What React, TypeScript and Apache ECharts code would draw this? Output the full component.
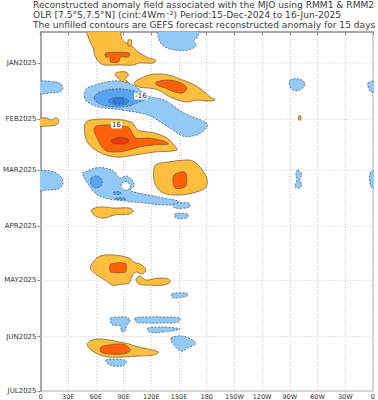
import React, { useEffect, useRef } from 'react';
import * as echarts from 'echarts';

// ---- axes ----
const lonTicks = [0, 30, 60, 90, 120, 150, 180, 210, 240, 270, 300, 330, 360];
// days since 15-Dec-2024
const monthDays = [17, 48, 76, 107, 137, 168, 198];
const monthLabels = ['JAN2025', 'FEB2025', 'MAR2025', 'APR2025', 'MAY2025', 'JUN2025', 'JUL2025'];
const titleLines = [
  'Reconstructed anomaly field associated with the MJO using RMM1 & RMM2',
  'OLR [7.5°S,7.5°N] (cint:4Wm⁻²) Period:15-Dec-2024 to 16-Jun-2025',
  'The unfilled contours are GEFS forecast reconstructed anomaly for 15 days',
];

// ---- contour regions: [longitude (°E, 0-360), day since 15-Dec-2024] ----
const posA = [[50.7,-3],[84.5,-3],[88.7,4.4],[99.2,7.7],[105.6,11],[117.2,14.3],[124.6,15.4],[122.5,17.1],[106.6,17.1],[101.3,18.2],[85.5,18.2],[69.7,18.2],[64.4,17.1],[59.1,13.2],[57,8.8],[52.8,4.4]];
const posA2 = [[70.7,11.6],[96.1,11.6],[95,13.8],[86.6,13.8],[84.5,16.5],[76,16.5],[75,13.8],[70.7,13.8]];
const posAsmall = [[95,4.4],[98.2,4.4],[98.2,7.2],[95,7.7]];
const negP = [[127.7,-3],[150,-3],[172.1,-3],[170,2.8],[165.8,5],[168.9,7.2],[160.5,9.9],[145.7,9.9],[133,7.7],[127.7,3.3]];
const posQ = [[81.3,22.6],[92.9,22.1],[95,24.3],[90.8,25.9],[95,27.6],[92.9,29.2],[84.5,29.2],[86.6,26.5],[82.3,24.8]];
const posB = [[101.3,28.1],[111.9,24.8],[122.5,23.2],[138.3,23.7],[154.1,26.5],[164.7,28.7],[175.2,32],[183.7,35.9],[189,37.5],[180.5,38.1],[170,37.5],[159.4,38.6],[148.9,37.5],[138.3,35.3],[127.7,32],[117.2,30.9],[106.6,30.3]];
const posB2 = [[125.6,27.6],[138.3,26.5],[152,28.1],[158.4,30.9],[154.1,33.6],[145.7,33.1],[135.1,30.9],[125.6,29.2]];
const negR = [[-3,27.6],[16.9,27.6],[22.2,28.7],[24.3,30.9],[21.1,33.1],[11.6,33.6],[-3,33.6]];
const negRwrap = [[354.7,28.1],[363,27.6],[363,33.1],[356.8,32.5]];
const negT = [[270.3,26.5],[280.8,26],[286.1,28.1],[284,30.9],[276.6,32.5],[270.3,30.3]];
const negC = [[47.5,35.9],[49.6,31.4],[59.1,29.2],[70.7,27.6],[85.5,27],[102.4,29.8],[116.1,35.3],[134.1,37.5],[155.2,44.7],[180.5,50.7],[175.2,55.2],[164.7,57.4],[154.1,57.4],[143.6,54.1],[133,50.7],[116.1,45.8],[87.6,43],[63.3,41.4],[49.6,38.1]];
const negC2 = [[58.1,36.4],[64.4,33.1],[80.2,31.4],[96.1,32],[106.6,33.6],[116.1,35.9],[109.8,38.1],[101.3,39.7],[96.1,40.8],[80.2,41.4],[64.4,39.7]];
const negC3 = [[73.9,37.5],[84.5,35.9],[95,37.5],[92.9,39.7],[84.5,40.3],[75,39.2]];
const negC4 = [[79.2,37],[89.7,37],[89.7,39.2],[79.2,39.2]];
const posD = [[47.5,52.4],[50.7,49.1],[70.7,48],[98.2,49.6],[105.6,54.1],[123.5,55.7],[137.2,58.5],[144.6,62.3],[147.8,65.1],[123.5,66.2],[102.4,67.8],[81.3,69],[63.3,66.2],[50.7,60.7]];
const posD2 = [[58.1,53],[67.6,51.3],[85.5,51.9],[95,52.4],[99.2,55.7],[103.5,58.5],[117.2,58.5],[133,60.1],[138.3,61.8],[122.5,62.3],[106.6,63.4],[96.1,65.1],[80.2,66.2],[69.7,65.1],[62.3,59.6]];
const posD3 = [[77.1,59.6],[85.5,57.9],[95,59],[94,61.2],[85.5,61.8],[78.1,61.2]];
const posS = [[-3,48],[6.3,47.4],[11.6,48.5],[16.9,47.4],[20,49.1],[16.9,51.3],[6.3,51.9],[-3,51.9]];
const posU = [[279.7,46.3],[281.8,46.3],[281.8,48.5],[279.7,48.5]];
const negV = [[-3,77.2],[11.6,76.7],[16.9,77.8],[22.2,79.9],[24.3,83.8],[19,86.6],[6.3,87.2],[-3,87.2]];
const negW = [[356.8,77.8],[363,76.7],[363,86],[357.9,85.5]];
const negX = [[278.7,76.1],[282.9,78.3],[280.8,81.6],[282.9,83.8],[280.8,86],[275.5,85.5],[277.6,81.6],[276.6,78.3]];
const negE = [[48.6,77.2],[59.1,75],[69.7,75],[80.2,77.2],[85.5,80.5],[92.9,79.4],[99.2,81.6],[101.3,84.9],[97.1,87.2],[101.3,88.3],[117.2,89.9],[133,91.6],[148.9,93.2],[149.9,94.9],[133,95.4],[111.9,94.3],[90.8,93.2],[69.7,91.6],[59.1,88.8],[48.6,81.6],[45.4,77.8]];
const holeE = [[87.6,83.3],[94,82.7],[97.1,85.5],[93,87.2],[88.7,86.6]];
const negE2 = [[54.9,80.5],[61.2,79.4],[66.5,81.6],[65.5,84.9],[59.1,86],[54.9,84.4]];
const negE2b = [[79.2,88.3],[86.6,88.3],[86.6,89.4],[79.2,89.4]];
const negE2c = [[81.3,91.6],[91.8,91.6],[91.8,92.4],[81.3,92.4]];
const negY = [[143.6,94.9],[160.5,94.3],[161.5,96.5],[145.7,97.1]];
const negZ = [[145.7,100.4],[159.4,100.4],[158.4,102.6],[146.7,102.6]];
const posF = [[124.6,73.4],[138.3,71.7],[159.4,70.6],[166.8,71.7],[175.2,76.1],[180.5,81.6],[178.4,86],[164.7,88.8],[148.9,89.9],[133,88.8],[124.6,84.4],[122.5,78.9]];
const posF2 = [[144.6,78.9],[156.2,77.2],[158.4,81.6],[156.2,85.5],[145.7,86],[143.6,82.7]];
const posG = [[54.9,98.2],[64.4,96.5],[80.2,97.1],[96.1,97.1],[100.3,98.7],[96.1,100.4],[80.2,100.9],[69.7,102.6],[61.2,102],[57,100.4]];
const posH = [[64.4,123.6],[80.2,123],[96.1,124.7],[101.3,126.9],[109.8,128.5],[114,131.3],[109.8,133.5],[103.5,132.4],[99.2,134.6],[96.1,138.5],[88.7,139],[78.1,139.6],[69.7,136.8],[61.2,134],[53.8,130.2],[57,126.9]];
const posH2 = [[76,128],[91.8,127.5],[92.9,130.2],[91.8,132.4],[76,132.4],[75,130.2]];
const posI = [[103.5,136.2],[107.7,134.6],[114,136.8],[127.7,135.7],[138.3,136.2],[140.4,137.9],[133,139.6],[117.2,139.6],[106.6,139]];
const negMay = [[142.5,144.5],[158.4,144],[159.4,145.5],[143.6,146.7]];
const negJ = [[76,157.8],[85.5,157.2],[92.9,157.2],[97.1,158.9],[95,161.1],[92.9,162.2],[91.8,164.9],[87.6,164.9],[86.6,162.2],[78.1,161.6],[76,159.9]];
const negK = [[102.4,157.8],[111.9,157.2],[133,157.2],[151,157.8],[148.9,160],[133,160.5],[111.9,160.5],[103.5,160]];
const negL = [[116.1,163.3],[133,162.7],[151,163.8],[133,165.5],[118.2,165.5]];
const negM = [[141.5,168.8],[154.1,167.7],[167.9,171.5],[159.4,174.3],[152,176],[143.6,172.1]];
const posN = [[53.8,170.4],[64.4,169.3],[80.2,170.4],[96.1,172.1],[106.6,173.8],[117.2,174.9],[127.7,176.5],[122.5,178.2],[106.6,178.7],[90.8,179.3],[75,179.3],[64.4,178.2],[54.9,175.4],[50.7,172.6]];
const posN2 = [[65.5,173.8],[75,172.6],[88.7,172.1],[95,173.8],[97.1,176],[88.7,177.6],[75,177.6],[65.5,176.5]];
const negO = [[70.7,181],[82.3,180.4],[92.9,181.5],[88.7,184.2],[75,183.6]];

// [polygon, level]  level: +1 >4, +2 >12, +3 >20 ; -1 <-4, -2 <-12, -3, -4 ; 0 = hole
const regions: [number[][], number][] = [
  [posA, 1], [posA2, 2], [posAsmall, 1], [negP, -1], [posQ, 1], [posB, 1], [posB2, 2],
  [negR, -1], [negRwrap, -1], [negT, -1],
  [negC, -1], [negC2, -2], [negC3, -3], [negC4, -4],
  [posD, 1], [posD2, 2], [posD3, 3], [posS, 1], [posU, 1],
  [negV, -1], [negW, -1], [negX, -1], [negE, -1], [holeE, 0], [negE2, -2], [negE2b, -2], [negE2c, -2],
  [negY, -1], [negZ, -1], [posF, 1], [posF2, 2], [posG, 1],
  [posH, 1], [posH2, 2], [posI, 1], [negMay, -1],
  [negJ, -1], [negK, -1], [negL, -1], [negM, -1], [posN, 1], [posN2, 2], [negO, -1],
];

const contourLabels: [number, number, string][] = [
  [108.7, 35.3, '-16'],
  [82.3, 51.3, '16'],
];

const levelColor: Record<string, string> = {
  '3': '#E8380C', '2': '#FF6008', '1': '#FFBE3E', '0': '#FFFFFF',
  '-1': '#92C9F6', '-2': '#58A4F2', '-3': '#3F8CEB', '-4': '#2E7BE4',
};

function lonLabel(v: number): string {
  if (v === 0 || v === 360) return '0';
  if (v < 180) return v + 'E';
  if (v === 180) return '180';
  return (360 - v) + 'W';
}

export default function App() {
  const ref = useRef<HTMLDivElement>(null);
  useEffect(() => {
    if (!ref.current) return;
    const chart = echarts.init(ref.current, undefined, { renderer: 'svg' });
    const font = 'DejaVu Sans';
    const regionSeries = regions.map((r) => {
      const neg = r[1] <= 0;
      return {
        type: 'custom',
        z: 2,
        clip: true,
        silent: true,
        data: [[180, 99]],
        encode: { x: 0, y: 1 },
        renderItem: (params: any, api: any) => ({
          type: 'polygon',
          shape: { points: r[0].map((p) => api.coord(p)), smooth: 0.35 },
          style: {
            fill: levelColor[String(r[1])],
            stroke: neg ? '#404a55' : '#6e5530',
            lineWidth: 0.7,
            lineDash: neg ? [2, 1.5] : null,
          },
        }),
      };
    });
    chart.setOption({
      animation: false,
      backgroundColor: '#ffffff',
      title: {
        text: titleLines.join('\n'),
        left: 33,
        top: 0.5,
        padding: 0,
        textStyle: { fontSize: 9.1, fontWeight: 'normal', color: '#3a3a3a', lineHeight: 9.6, fontFamily: font },
      },
      grid: { left: 34, right: 2, top: 32, bottom: 9, show: true, borderColor: '#b0b0b0', borderWidth: 1, containLabel: false },
      xAxis: {
        type: 'value', min: 0, max: 360, interval: 30,
        axisLine: { show: true, lineStyle: { color: '#a8a8a8', width: 2 } },
        axisTick: { show: true, length: 3, lineStyle: { color: '#888', width: 1 } },
        axisLabel: { formatter: lonLabel, fontSize: 6.5, color: '#333', margin: 2, fontFamily: font, showMinLabel: true, showMaxLabel: true },
        splitLine: { show: true, lineStyle: { color: '#c8c8c8', type: [1, 2], width: 1 } },
      },
      yAxis: {
        type: 'value', min: 0, max: 198, inverse: true,
        axisLine: { show: true, lineStyle: { color: '#a8a8a8', width: 2 } },
        axisTick: { show: true, length: 3, customValues: monthDays, lineStyle: { color: '#888', width: 1 } },
        axisLabel: {
          customValues: monthDays,
          formatter: (v: number) => monthLabels[monthDays.indexOf(v)] ?? '',
          fontSize: 7, color: '#333', margin: 4, fontFamily: font,
        },
        splitLine: { show: false },
      },
      series: [
        {
          type: 'custom',
          z: 1,
          silent: true,
          data: monthDays.slice(0, -1).map((d) => [180, d]),
          renderItem: (params: any, api: any) => {
            const d = api.value(1);
            const a = api.coord([0, d]);
            const b = api.coord([360, d]);
            return { type: 'line', shape: { x1: a[0], y1: a[1], x2: b[0], y2: b[1] }, style: { stroke: '#c8c8c8', lineWidth: 1, lineDash: [1, 2] } };
          },
        },
        ...regionSeries,
        {
          type: 'custom',
          z: 3,
          silent: true,
          data: contourLabels.map((l) => [l[0], l[1]]),
          renderItem: (params: any, api: any) => {
            const l = contourLabels[params.dataIndex];
            const c = api.coord([l[0], l[1]]);
            return {
              type: 'text', x: c[0], y: c[1],
              style: {
                text: l[2], fill: '#222', font: `7px "${font}"`, align: 'center', verticalAlign: 'middle',
                backgroundColor: '#ffffff', padding: [0, 1],
              },
            };
          },
        },
      ],
    });
    return () => chart.dispose();
  }, []);
  return <div ref={ref} style={{ position: 'absolute', left: 0, top: 0, width: 378, height: 400 }} />;
}
